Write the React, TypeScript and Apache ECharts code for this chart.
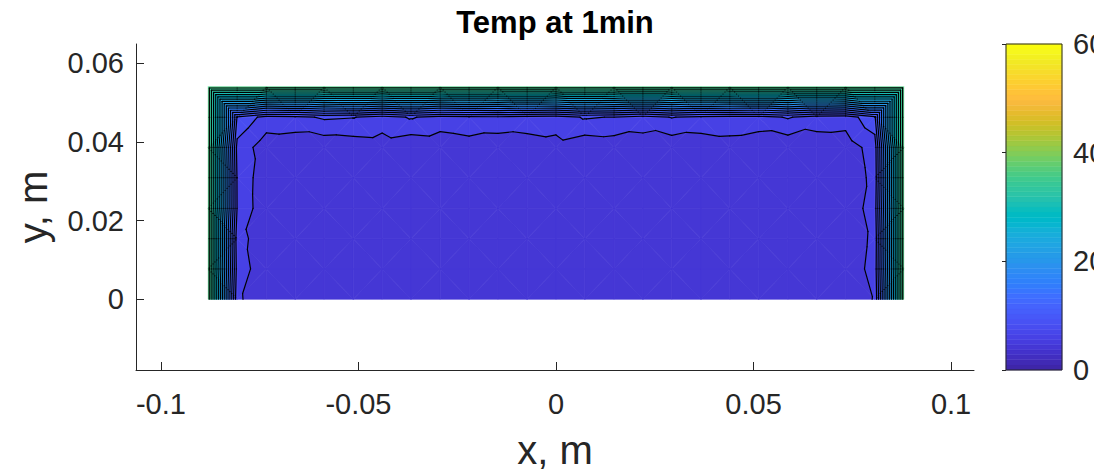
import { useEffect, useRef } from "react";
import * as echarts from "echarts";

// Mesh node coordinates (m)
const xNodes = [
  -0.088, -0.0807, -0.0733, -0.066, -0.0587, -0.0513, -0.044, -0.0367, -0.0293,
  -0.022, -0.0147, -0.0073, 0, 0.0073, 0.0147, 0.022, 0.0293, 0.0367, 0.044,
  0.0513, 0.0587, 0.066, 0.0733, 0.0807, 0.088,
];
const yNodes = [0, 0.0077, 0.0154, 0.0231, 0.0309, 0.0386, 0.0463, 0.054];

// Nodal temperatures, one row per yNodes entry (bottom to top), one column per xNodes entry
const tempRow0 = [37, 6.3, 4.8, 4.9, 5.1, 5.0, 5.2, 5.1, 5.0, 5.2, 5.3, 5.1, 5.2, 5.1, 5.3, 5.2, 5.0, 5.1, 5.2, 5.0, 5.1, 4.9, 5.0, 6.1, 37];
const tempRow1 = [37, 7.1, 4.7, 5.0, 5.2, 5.1, 5.3, 5.0, 5.2, 5.4, 5.2, 5.3, 5.1, 5.2, 5.4, 5.3, 5.1, 5.2, 5.0, 5.2, 5.3, 5.0, 4.9, 6.6, 37];
const tempRow2 = [37, 6.7, 4.9, 5.1, 5.0, 5.2, 5.1, 5.3, 5.2, 5.0, 5.1, 5.3, 5.2, 5.0, 5.1, 5.2, 5.3, 5.1, 5.2, 5.0, 5.1, 5.2, 4.8, 6.4, 37];
const tempRow3 = [37, 7.9, 4.4, 5.0, 5.2, 5.1, 5.0, 5.2, 5.3, 5.1, 5.0, 5.2, 5.1, 5.3, 5.2, 5.0, 5.1, 5.3, 5.2, 5.1, 5.0, 5.2, 4.7, 6.9, 37];
const tempRow4 = [37, 7.8, 4.5, 5.1, 5.0, 5.2, 5.3, 5.1, 5.0, 5.2, 5.1, 5.0, 5.2, 5.1, 5.3, 5.2, 5.0, 5.1, 5.2, 5.3, 5.1, 5.0, 4.8, 6.5, 37];
const tempRow5 = [37, 7.3, 4.9, 4.6, 4.5, 4.8, 5.0, 4.4, 4.7, 5.1, 4.6, 4.9, 5.3, 4.5, 4.8, 5.0, 4.6, 4.8, 5.2, 4.7, 4.5, 4.9, 5.0, 6.8, 37];
const tempRow6 = [37, 9.8, 7.2, 7.4, 8.3, 8.1, 7.1, 8.2, 7.2, 7.5, 7.6, 7.3, 7.0, 8.2, 7.9, 7.1, 8.1, 7.4, 7.3, 7.2, 8.2, 7.0, 6.8, 9.6, 37];
const tempRow7 = [37, 37, 37, 37, 37, 37, 37, 37, 37, 37, 37, 37, 37, 37, 37, 37, 37, 37, 37, 37, 37, 37, 37, 37, 37];
const tempRows = [tempRow0, tempRow1, tempRow2, tempRow3, tempRow4, tempRow5, tempRow6, tempRow7];

// Contour levels and colour limits
const contourLevels = [
  0, 2, 4, 6, 8, 10, 12, 14, 16, 18, 20, 22, 24, 26, 28, 30, 32, 34, 36, 38, 40,
  42, 44, 46, 48, 50, 52, 54, 56, 58, 60,
];
const colorLimits = [0, 60];
const colorbarTicks = [0, 20, 40, 60];

// Axis ticks
const xTicks = [-0.1, -0.05, 0, 0.05, 0.1];
const yTicks = [0, 0.02, 0.04, 0.06];

// parula colormap, 64 entries
const parula: number[][] = [
  [0.2422, 0.1504, 0.6603], [0.2504, 0.165, 0.7076], [0.2578, 0.1818, 0.7511], [0.2647, 0.1978, 0.7952],
  [0.2706, 0.2147, 0.8364], [0.2751, 0.2342, 0.871], [0.2783, 0.2559, 0.8991], [0.2803, 0.2782, 0.9221],
  [0.2813, 0.3006, 0.9414], [0.281, 0.3228, 0.9579], [0.2795, 0.3447, 0.9717], [0.276, 0.3667, 0.9829],
  [0.2699, 0.3892, 0.9906], [0.2602, 0.4123, 0.9952], [0.244, 0.4358, 0.9988], [0.2206, 0.4603, 0.9973],
  [0.1963, 0.4847, 0.9892], [0.1834, 0.5074, 0.9798], [0.1786, 0.5289, 0.9682], [0.1764, 0.5499, 0.952],
  [0.1687, 0.5703, 0.9359], [0.154, 0.5902, 0.9218], [0.146, 0.6091, 0.9079], [0.138, 0.6276, 0.8973],
  [0.1248, 0.6459, 0.8883], [0.1113, 0.6635, 0.8763], [0.0952, 0.6798, 0.8598], [0.0689, 0.6948, 0.8394],
  [0.0297, 0.7082, 0.8163], [0.0036, 0.7203, 0.7917], [0.0067, 0.7312, 0.766], [0.0433, 0.7411, 0.7394],
  [0.0964, 0.75, 0.712], [0.1408, 0.7584, 0.6842], [0.1717, 0.767, 0.6554], [0.1938, 0.7758, 0.6251],
  [0.2161, 0.7843, 0.5923], [0.247, 0.7918, 0.5567], [0.2906, 0.7973, 0.5188], [0.3406, 0.8008, 0.4789],
  [0.3909, 0.8029, 0.4354], [0.4456, 0.8024, 0.3909], [0.5044, 0.7993, 0.348], [0.5616, 0.7942, 0.3045],
  [0.6174, 0.7876, 0.2612], [0.672, 0.7793, 0.2227], [0.7242, 0.7698, 0.191], [0.7738, 0.7598, 0.1646],
  [0.8203, 0.7498, 0.1535], [0.8634, 0.7406, 0.1596], [0.9035, 0.733, 0.1774], [0.9393, 0.7288, 0.21],
  [0.9728, 0.7298, 0.2394], [0.9956, 0.7434, 0.2371], [0.997, 0.7659, 0.2199], [0.9952, 0.7893, 0.2028],
  [0.9892, 0.8136, 0.1885], [0.9793, 0.8386, 0.1766], [0.9681, 0.8639, 0.1649], [0.9566, 0.889, 0.1537],
  [0.9498, 0.9136, 0.1408], [0.9529, 0.9402, 0.1258], [0.9651, 0.9684, 0.1149], [0.9763, 0.9831, 0.0538],
];

const FONT = "'Liberation Sans', Arial, Helvetica, sans-serif";
const INK = "#262626";

type Vtx = [number, number, number];

const rgb = (c: number[]) =>
  `rgb(${Math.round(c[0] * 255)},${Math.round(c[1] * 255)},${Math.round(c[2] * 255)})`;

function colorForValue(v: number): string {
  const m = parula.length;
  let idx = Math.floor(((v - colorLimits[0]) / (colorLimits[1] - colorLimits[0])) * m);
  idx = Math.max(0, Math.min(m - 1, idx));
  return rgb(parula[idx]);
}

// Keep the part of a polygon where the linear field is above (or below) a level
function clipPoly(poly: Vtx[], level: number, keepAbove: boolean): Vtx[] {
  const out: Vtx[] = [];
  const inside = (p: Vtx) => (keepAbove ? p[2] >= level : p[2] <= level);
  for (let k = 0; k < poly.length; k++) {
    const p = poly[k];
    const q = poly[(k + 1) % poly.length];
    const pin = inside(p);
    const qin = inside(q);
    if (pin) out.push(p);
    if (pin !== qin) {
      const t = (level - p[2]) / (q[2] - p[2]);
      out.push([p[0] + t * (q[0] - p[0]), p[1] + t * (q[1] - p[1]), level]);
    }
  }
  return out;
}

function buildTriangles(): Vtx[][] {
  const tris: Vtx[][] = [];
  for (let j = 0; j < yNodes.length - 1; j++) {
    for (let i = 0; i < xNodes.length - 1; i++) {
      const a: Vtx = [xNodes[i], yNodes[j], tempRows[j][i]];
      const b: Vtx = [xNodes[i + 1], yNodes[j], tempRows[j][i + 1]];
      const c: Vtx = [xNodes[i + 1], yNodes[j + 1], tempRows[j + 1][i + 1]];
      const d: Vtx = [xNodes[i], yNodes[j + 1], tempRows[j + 1][i]];
      if ((i + j) % 2 === 1) {
        tris.push([a, b, c], [a, c, d]);
      } else {
        tris.push([a, b, d], [b, c, d]);
      }
    }
  }
  return tris;
}

interface Band { pts: Vtx[]; color: string }
interface Seg { p: [number, number]; q: [number, number] }

function buildContours() {
  const tris = buildTriangles();
  const bands: Band[] = [];
  const segs: Seg[] = [];
  for (const tri of tris) {
    const vs = tri.map((p) => p[2]);
    const vmin = Math.min(...vs);
    const vmax = Math.max(...vs);
    for (let k = 0; k < contourLevels.length - 1; k++) {
      const lo = contourLevels[k];
      const hi = contourLevels[k + 1];
      if (vmax < lo || vmin > hi) continue;
      const poly = clipPoly(clipPoly(tri, lo, true), hi, false);
      if (poly.length >= 3) bands.push({ pts: poly, color: colorForValue(lo) });
    }
    for (const lv of contourLevels) {
      if (!(vmin < lv && vmax > lv)) continue;
      const cross: [number, number][] = [];
      for (let e = 0; e < 3; e++) {
        const p = tri[e];
        const q = tri[(e + 1) % 3];
        if ((p[2] - lv) * (q[2] - lv) < 0) {
          const t = (lv - p[2]) / (q[2] - p[2]);
          cross.push([p[0] + t * (q[0] - p[0]), p[1] + t * (q[1] - p[1])]);
        }
      }
      if (cross.length === 2) segs.push({ p: cross[0], q: cross[1] });
    }
  }
  return { bands, segs };
}

const { bands, segs } = buildContours();

const X_MIN = -0.1063;
const X_MAX = 0.1058;
const Y_MIN = -0.018;
const Y_MAX = 0.0649;

const fmt = (v: number) => `${parseFloat(Number(v).toFixed(4))}`;

export default function App() {
  const ref = useRef<HTMLDivElement>(null);

  useEffect(() => {
    if (!ref.current) return;
    const chart = echarts.init(ref.current, undefined, { renderer: "svg" });

    const bandData = bands.map((b, idx) => {
      const cx = b.pts.reduce((s, p) => s + p[0], 0) / b.pts.length;
      const cy = b.pts.reduce((s, p) => s + p[1], 0) / b.pts.length;
      return [cx, cy, idx];
    });
    const segData = segs.map((s, idx) => [(s.p[0] + s.q[0]) / 2, (s.p[1] + s.q[1]) / 2, idx]);
    const cbStep = (colorLimits[1] - colorLimits[0]) / parula.length;
    const cbData = parula.map((_, i) => [0.5, colorLimits[0] + (i + 0.5) * cbStep, i]);

    const option: any = {
      animation: false,
      textStyle: { fontFamily: FONT },
      graphic: [
        {
          type: "text",
          x: 555,
          y: 22,
          style: {
            text: "Temp at 1min",
            fontFamily: FONT,
            fontSize: 31,
            fontWeight: "bold",
            fill: "#000",
            align: "center",
            verticalAlign: "middle",
          },
        },
      ],
      grid: [
        { left: 136, top: 44, width: 838, height: 326, outerBoundsMode: "none", containLabel: false },
        { left: 1006, top: 44, width: 56, height: 326, outerBoundsMode: "none", containLabel: false },
      ],
      xAxis: [
        {
          type: "value",
          gridIndex: 0,
          min: X_MIN,
          max: X_MAX,
          name: "x, m",
          nameLocation: "middle",
          nameGap: 60,
          nameTextStyle: { fontSize: 40, color: INK, fontFamily: FONT },
          axisLine: { onZero: false, lineStyle: { color: INK, width: 1 } },
          axisTick: { inside: true, length: 8, customValues: xTicks, lineStyle: { color: INK } },
          axisLabel: { customValues: xTicks, fontSize: 29, color: INK, margin: 19, formatter: fmt },
          splitLine: { show: false },
        },
        { type: "value", gridIndex: 1, min: 0, max: 1, show: false },
      ],
      yAxis: [
        {
          type: "value",
          gridIndex: 0,
          min: Y_MIN,
          max: Y_MAX,
          name: "y, m",
          nameLocation: "middle",
          nameGap: 83,
          nameRotate: 90,
          nameTextStyle: { fontSize: 40, color: INK, fontFamily: FONT },
          axisLine: { onZero: false, lineStyle: { color: INK, width: 1 } },
          axisTick: { inside: true, length: 8, customValues: yTicks, lineStyle: { color: INK } },
          axisLabel: { customValues: yTicks, fontSize: 29, color: INK, margin: 12, formatter: fmt },
          splitLine: { show: false },
        },
        {
          type: "value",
          gridIndex: 1,
          position: "right",
          min: colorLimits[0],
          max: colorLimits[1],
          interval: 20,
          z: 10,
          axisLine: { show: false },
          axisTick: { inside: true, length: 4, lineStyle: { color: INK } },
          axisLabel: { fontSize: 29, color: INK, margin: 11, customValues: colorbarTicks, formatter: fmt },
          splitLine: { show: false },
        },
      ],
      series: [
        {
          type: "custom",
          name: "bands",
          xAxisIndex: 0,
          yAxisIndex: 0,
          silent: true,
          clip: false,
          dimensions: ["x", "y", "idx"],
          encode: { x: 0, y: 1 },
          data: bandData,
          renderItem: (_p: any, api: any) => {
            const b = bands[api.value(2)];
            const points = b.pts.map((p) => api.coord([p[0], p[1]]));
            return {
              type: "polygon",
              shape: { points },
              style: { fill: b.color, stroke: b.color, lineWidth: 0.7, lineJoin: "round" },
            };
          },
        },
        {
          type: "custom",
          name: "contour lines",
          xAxisIndex: 0,
          yAxisIndex: 0,
          silent: true,
          clip: false,
          dimensions: ["x", "y", "idx"],
          encode: { x: 0, y: 1 },
          data: segData,
          renderItem: (_p: any, api: any) => {
            const s = segs[api.value(2)];
            const a = api.coord(s.p);
            const c = api.coord(s.q);
            return {
              type: "line",
              shape: { x1: a[0], y1: a[1], x2: c[0], y2: c[1] },
              style: { stroke: "#000", lineWidth: 1.2, lineCap: "round" },
            };
          },
        },
        {
          type: "custom",
          name: "colorbar",
          xAxisIndex: 1,
          yAxisIndex: 1,
          silent: true,
          dimensions: ["x", "y", "idx"],
          encode: { x: 0, y: 1 },
          data: cbData,
          renderItem: (_p: any, api: any) => {
            const i = api.value(2);
            const lo = colorLimits[0] + i * cbStep;
            const hi = lo + cbStep;
            const p0 = api.coord([0, lo]);
            const p1 = api.coord([1, hi]);
            const col = rgb(parula[i]);
            return {
              type: "rect",
              shape: { x: p0[0], y: p1[1], width: p1[0] - p0[0], height: p0[1] - p1[1] },
              style: { fill: col, stroke: col, lineWidth: 0.5 },
            };
          },
        },
        {
          type: "custom",
          name: "colorbar frame",
          xAxisIndex: 1,
          yAxisIndex: 1,
          silent: true,
          z: 5,
          dimensions: ["x", "y"],
          encode: { x: 0, y: 1 },
          data: [[0.5, 30]],
          renderItem: (_p: any, api: any) => {
            const p0 = api.coord([0, colorLimits[0]]);
            const p1 = api.coord([1, colorLimits[1]]);
            return {
              type: "rect",
              shape: { x: p0[0], y: p1[1], width: p1[0] - p0[0], height: p0[1] - p1[1] },
              style: { fill: "none", stroke: INK, lineWidth: 1 },
            };
          },
        },
      ],
    };

    chart.setOption(option);
    return () => chart.dispose();
  }, []);

  return (
    <div
      ref={ref}
      style={{ position: "fixed", left: 0, top: 0, width: 1094, height: 473, background: "#fff" }}
    />
  );
}
